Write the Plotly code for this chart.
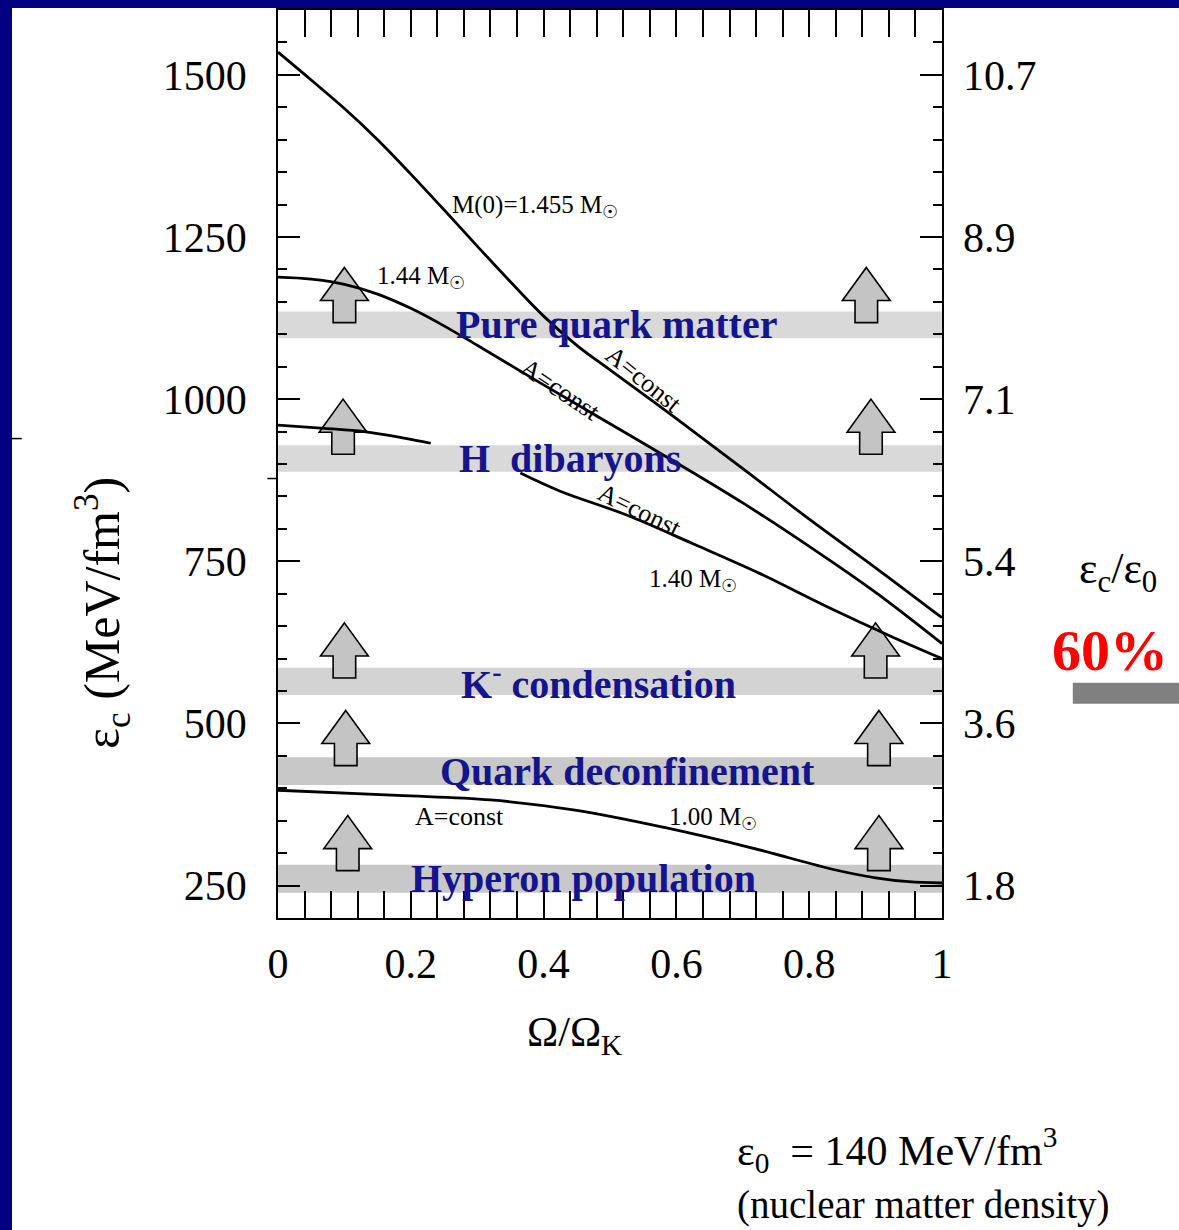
import plotly.graph_objects as go

# ---------------- data ----------------
# M(0)=1.455 Msun sequence
omega_1455 = [0, 0.05, 0.1, 0.15, 0.2, 0.25, 0.3, 0.35, 0.4, 0.45, 0.5, 0.6, 0.7, 0.8, 0.9, 1.0]
eps_1455 = [1535, 1492, 1448, 1400, 1347, 1292, 1236, 1181, 1128, 1083, 1045, 970, 893, 815, 740, 663]

# 1.44 Msun sequence
omega_144 = [0, 0.05, 0.1, 0.15, 0.2, 0.25, 0.3, 0.4, 0.5, 0.6, 0.7, 0.8, 0.9, 1.0]
eps_144 = [1188, 1185, 1177, 1162, 1140, 1113, 1083, 1022, 962, 902, 840, 773, 702, 623]

# 1.40 Msun sequence (interrupted by the band label)
omega_140 = [0, 0.07, 0.13, 0.19, 0.23, None, 0.365, 0.425, 0.526, 0.625, 0.726, 0.827, 0.926, 1.0]
eps_140 = [960, 955, 950, 940, 932, None, 886, 858, 821, 777, 731, 680, 633, 600]

# 1.00 Msun sequence
omega_100 = [0, 0.18, 0.32, 0.45, 0.58, 0.71, 0.84, 0.90, 0.95, 1.0]
eps_100 = [397, 389, 382, 366, 340, 309, 274, 262, 256, 254]

# phase-transition bands
band_names = ["Pure quark matter", "H\u00a0\u00a0dibaryons", "K<sup>-</sup> condensation",
              "Quark deconfinement", "Hyperon population"]
band_low = [1094, 888, 544, 405, 239]
band_high = [1135, 929, 586, 448, 282]
band_label_x = [0.51, 0.44, 0.483, 0.526, 0.46]
band_colors = ["#d9d9d9", "#d9d9d9", "#d3d3d3", "#c8c8c8", "#c8c8c8"]

# up-arrows (tip energy density) at two rotation rates
arrow_tip = [1203, 1000, 655, 520, 358]
arrow_left_x = [0.1, 0.098, 0.1, 0.102, 0.105]
arrow_right_x = [0.886, 0.893, 0.9, 0.905, 0.905]

# axes
x_ticks = [0, 0.2, 0.4, 0.6, 0.8, 1]
x_ticktext = ["0", "0.2", "0.4", "0.6", "0.8", "1"]
y_ticks = [250, 500, 750, 1000, 1250, 1500]
ratio_ticktext = ["1.8", "3.6", "5.4", "7.1", "8.9", "10.7"]

FONT = "Liberation Serif, Times New Roman, serif"
BLUE = "#14148c"
NAVY = "#000080"

fig = go.Figure()

line_style = dict(color="black", width=2.8)
for xs, ys in [(omega_1455, eps_1455), (omega_144, eps_144), (omega_140, eps_140), (omega_100, eps_100)]:
    fig.add_trace(go.Scatter(x=xs, y=ys, mode="lines", line=line_style,
                             line_shape="spline", connectgaps=False,
                             showlegend=False, hoverinfo="skip"))

# invisible trace that carries the right-hand (eps_c/eps_0) axis
fig.add_trace(go.Scatter(x=omega_1455, y=eps_1455, yaxis="y2", mode="lines",
                         line=dict(color="rgba(0,0,0,0)"), showlegend=False, hoverinfo="skip"))

shapes = []
# bands
for lo, hi, col in zip(band_low, band_high, band_colors):
    shapes.append(dict(type="rect", xref="x", yref="y", x0=0, x1=1, y0=lo, y1=hi,
                       fillcolor=col, line=dict(width=0), layer="below"))

# arrows
HW, SW, HEAD, TOTAL = 0.036, 0.017, 51, 85


def arrow_path(xc, tip):
    hb = tip - HEAD
    bt = tip - TOTAL
    pts = [(xc, tip), (xc + HW, hb), (xc + SW, hb), (xc + SW, bt),
           (xc - SW, bt), (xc - SW, hb), (xc - HW, hb)]
    return "M " + " L ".join(f"{px},{py}" for px, py in pts) + " Z"


for xs in (arrow_left_x, arrow_right_x):
    for xc, tip in zip(xs, arrow_tip):
        shapes.append(dict(type="path", xref="x", yref="y", path=arrow_path(xc, tip),
                           fillcolor="#c4c4c4", line=dict(color="black", width=1.6),
                           layer="below"))

# navy frame of the slide (left and top edges)
shapes.append(dict(type="rect", xref="paper", yref="paper", x0=-0.4187, x1=-0.4006,
                   y0=-0.35, y1=1.01, fillcolor=NAVY, line=dict(width=0), layer="above"))
shapes.append(dict(type="rect", xref="paper", yref="paper", x0=-0.4187, x1=1.36,
                   y0=1.0022, y1=1.01, fillcolor=NAVY, line=dict(width=0), layer="above"))
# grey bar under "60%"
shapes.append(dict(type="rect", xref="paper", yref="paper", x0=1.197, x1=1.36,
                   y0=0.236, y1=0.259, fillcolor="#808080", line=dict(width=0)))
# small stray dashes
shapes.append(dict(type="line", xref="paper", yref="paper", x0=-0.4006, x1=-0.386,
                   y0=0.528, y1=0.528, line=dict(color="black", width=1.5)))
shapes.append(dict(type="line", xref="paper", yref="paper", x0=-0.016, x1=-0.001,
                   y0=0.484, y1=0.484, line=dict(color="black", width=1.5)))

annotations = []
for name, lo, hi, lx in zip(band_names, band_low, band_high, band_label_x):
    annotations.append(dict(x=lx, y=(lo + hi) / 2, xref="x", yref="y", text=f"<b>{name}</b>",
                            showarrow=False, xanchor="center", yanchor="middle",
                            font=dict(family=FONT, size=40, color=BLUE)))

small = dict(family=FONT, size=25, color="black")
curve_labels = [
    (0.259, 1297, "M(0)=1.455 M<sub>\u2609</sub>"),
    (0.146, 1188, "1.44 M<sub>\u2609</sub>"),
    (0.556, 720, "1.40 M<sub>\u2609</sub>"),
    (0.586, 354, "1.00 M<sub>\u2609</sub>"),
]
for lx, ly, txt in curve_labels:
    annotations.append(dict(x=lx, y=ly, xref="x", yref="y", text=txt, showarrow=False,
                            xanchor="left", yanchor="middle", font=small))

aconst = [(0.551, 1030, 39), (0.425, 1015, 34), (0.545, 828, 26), (0.274, 357, 0)]
for lx, ly, ang in aconst:
    annotations.append(dict(x=lx, y=ly, xref="x", yref="y", text="A=const", showarrow=False,
                            xanchor="center", yanchor="middle",
                            textangle=ang, font=dict(family=FONT, size=26, color="black")))

big = dict(family=FONT, size=44, color="black")
annotations += [
    dict(x=-0.2636, y=0.336, xref="paper", yref="paper", xanchor="center", yanchor="middle",
         text="\u03b5<sub>c</sub> (MeV/fm<sup>3</sup>)",
         textangle=-90, showarrow=False, font=dict(family=FONT, size=50, color="black")),
    dict(x=0.447, y=-0.129, xref="paper", yref="paper", xanchor="center", yanchor="middle",
         text="\u03a9/\u03a9<sub>K</sub>",
         showarrow=False, font=dict(family=FONT, size=42, color="black")),
    dict(x=1.203, y=0.382, xref="paper", yref="paper", xanchor="left", yanchor="middle",
         text="\u03b5<sub>c</sub>/\u03b5<sub>0</sub>", showarrow=False, font=big),
    dict(x=1.253, y=0.2945, xref="paper", yref="paper", xanchor="center", yanchor="middle",
         text="<b>60%</b>", showarrow=False,
         font=dict(family=FONT, size=58, color="#ff0000")),
    dict(x=0.688, y=-0.255, xref="paper", yref="paper", xanchor="left", yanchor="middle",
         text="\u03b5<sub>0</sub>  = 140 MeV/fm<sup>3</sup>", showarrow=False,
         font=dict(family=FONT, size=42, color="black")),
    dict(x=0.688, y=-0.316, xref="paper", yref="paper", xanchor="left", yanchor="middle",
         text="(nuclear matter density)", showarrow=False,
         font=dict(family=FONT, size=39, color="black")),
]

tickfont = dict(family=FONT, size=42, color="black")
fig.update_layout(
    width=1179, height=1230,
    margin=dict(l=278, r=237, t=8, b=312),
    paper_bgcolor="white", plot_bgcolor="white",
    showlegend=False,
    shapes=shapes, annotations=annotations,
    xaxis=dict(range=[0, 1], tickvals=x_ticks, ticktext=x_ticktext, ticks="inside",
               ticklen=27, tickwidth=1.5, tickcolor="black",
               minor=dict(dtick=0.04, tick0=0, ticks="inside", ticklen=11, tickwidth=1.5, tickcolor="black"),
               showline=True, linecolor="black", linewidth=1.8, mirror="allticks",
               showgrid=False, zeroline=False, tickfont=tickfont, ticklabelstandoff=8),
    yaxis=dict(range=[200, 1600], tickvals=y_ticks, ticks="inside", ticklen=22, tickwidth=1.5,
               tickcolor="black",
               minor=dict(dtick=50, tick0=0, ticks="inside", ticklen=9, tickwidth=1.5, tickcolor="black"),
               showline=True, linecolor="black", linewidth=1.8, mirror="allticks",
               showgrid=False, zeroline=False, tickfont=tickfont, ticklabelstandoff=21),
    yaxis2=dict(range=[200, 1600], overlaying="y", side="right", tickvals=y_ticks,
                ticktext=ratio_ticktext, ticks="", showline=False, showgrid=False,
                zeroline=False, tickfont=tickfont, ticklabelstandoff=20),
)

# remove the page's default body margin and lay the slide's navy top edge over the page
post = ("document.body.style.margin='0px';"
        "var bar=document.createElement('div');"
        "bar.style.cssText='position:absolute;left:0;top:0;width:1179px;height:6px;"
        "background:#000080;z-index:1000;pointer-events:none;';"
        "document.body.appendChild(bar);")

fig.write_html("out.html", config={"displayModeBar": False}, post_script=post)
